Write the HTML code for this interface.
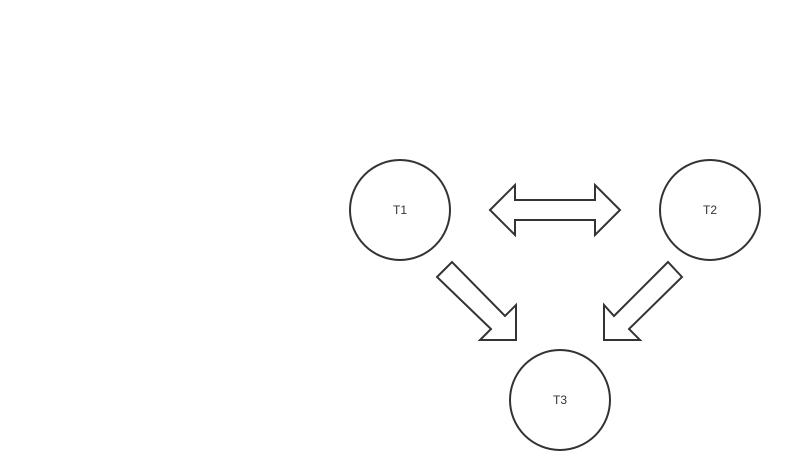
<!DOCTYPE html>
<html><head><meta charset="utf-8"><style>
html,body{margin:0;padding:0;background:#fff;}
svg{display:block;}
text{font-family:"Liberation Sans",Arial,sans-serif;font-size:12px;fill:#333;}
</style></head><body>
<svg width="786" height="470" viewBox="0 0 786 470">
<g fill="#fff" stroke="#333" stroke-width="2">
<circle cx="400" cy="210" r="50"/>
<circle cx="710" cy="210" r="50"/>
<circle cx="560" cy="400" r="50"/>
<polygon points="490,210 515,185 515,200 595,200 595,185 620,210 595,235 595,220 515,220 515,235"/>
<polygon points="437,277 452,262 505,316 516,305 516,340 480,340 491,329"/>
<polygon points="682,277 668,262 614,316 604,305 604,340 640,340 629,329"/>
</g>
<text x="400" y="214" text-anchor="middle">T1</text>
<text x="710" y="214" text-anchor="middle">T2</text>
<text x="560" y="404" text-anchor="middle">T3</text>
</svg>
</body></html>
